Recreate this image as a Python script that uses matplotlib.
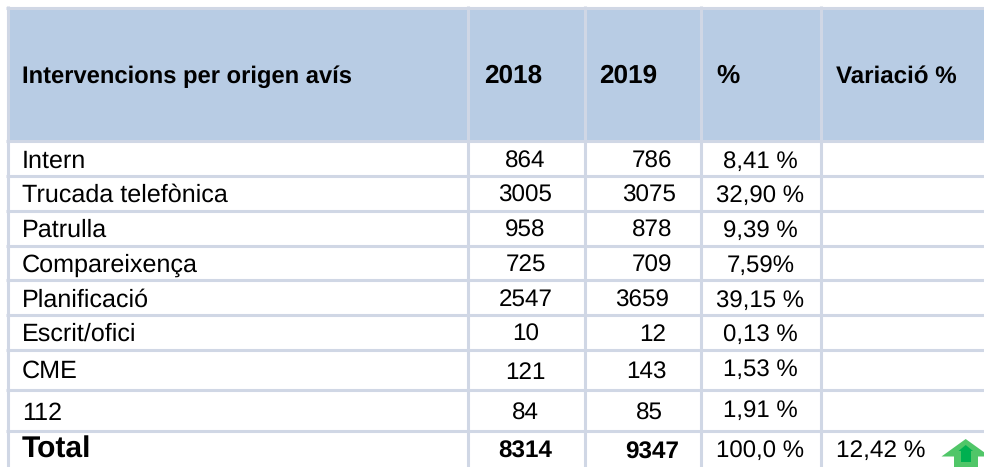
import matplotlib
matplotlib.use('Agg')
import matplotlib.pyplot as plt
from matplotlib.patches import Rectangle, Polygon

plt.rcParams['font.family'] = ['Liberation Sans', 'DejaVu Sans']
plt.rcParams['text.hinting'] = 'no_hinting'

# table content
header = ['Intervencions per origen avís', '2018', '2019', '%', 'Variació %']
origen = ['Intern', 'Trucada telefònica', 'Patrulla', 'Compareixença',
          'Planificació', 'Escrit/ofici', 'CME', '112', 'Total']
any_2018 = ['864', '3005', '958', '725', '2547', '10', '121', '84', '8314']
any_2019 = ['786', '3075', '878', '709', '3659', '12', '143', '85', '9347']
percent = ['8,41 %', '32,90 %', '9,39 %', '7,59%', '39,15 %', '0,13 %',
           '1,53 %', '1,91 %', '100,0 %']
variacio_total = '12,42 %'

# layout in pixels
col_lines = [7.5, 467.5, 584.5, 700.5, 820.5]
row_lines = [7.5, 140.5, 175.5, 210.5, 245.5, 279.5, 314.5, 349.5, 389.5, 430.5]
line_color = '#D0D7E5'
head_color = '#B8CCE4'

base_name = [168, 202, 237, 272, 307, 341, 378, 420, 458]
base_2018 = [168, 202, 237, 272, 307, 341, 379, 420, 458]
base_2019 = [168, 202, 237, 272, 307, 341, 379, 420, 459]
base_pct = [168, 202, 237, 272, 307, 341, 376, 417, 457]
x_2018 = 525.5
x_2019 = [652, 649, 652, 652, 642, 653, 646, 649, 652]
x_pct = 760.5

fig = plt.figure(figsize=(9.84, 4.67), dpi=100)
ax = fig.add_axes([0, 0, 1, 1])
ax.set_xlim(0, 984)
ax.set_ylim(467, 0)
ax.axis('off')

# header background
ax.add_patch(Rectangle((7.5, 7.5), 984 - 7.5, 133, facecolor=head_color, edgecolor='none', zorder=1))

# grid
for x in col_lines:
    ax.plot([x, x], [6, 467], color=line_color, lw=2.2, solid_capstyle='butt', zorder=2)
for y in row_lines:
    ax.plot([6, 984], [y, y], color=line_color, lw=2.2, solid_capstyle='butt', zorder=2)

# header text
txt = '#000000'
ax.text(22, 83, header[0], fontsize=17.1, fontweight='bold', color=txt, va='baseline')
ax.text(484, 83, header[1], fontsize=18.8, fontweight='bold', color=txt, va='baseline')
ax.text(599, 83, header[2], fontsize=18.8, fontweight='bold', color=txt, va='baseline')
ax.text(716, 83, header[3], fontsize=18.8, fontweight='bold', color=txt, va='baseline')
ax.text(836, 83, header[4], fontsize=17.4, fontweight='bold', color=txt, va='baseline')

# rows
for i in range(len(origen)):
    last = i == len(origen) - 1
    ax.text(22, base_name[i], origen[i], fontsize=21.6 if last else 18.1,
            fontweight='bold' if last else 'normal', color=txt, va='baseline')
    ax.text(x_2018, base_2018[i], any_2018[i], fontsize=17.5, ha='center', va='baseline',
            fontweight='bold' if last else 'normal', color=txt)
    ax.text(x_2019[i], base_2019[i], any_2019[i], fontsize=17.5, ha='center', va='baseline',
            fontweight='bold' if last else 'normal', color=txt)
    ax.text(x_pct, base_pct[i], percent[i], fontsize=17.3, ha='center', va='baseline', color=txt)

ax.text(836.5, 457, variacio_total, fontsize=17.6, va='baseline', color=txt)

# green up arrow, runs off the right and bottom edge
ax.add_patch(Polygon([(965.7, 439), (941.5, 456.5), (954, 456.5), (954, 468),
                      (978, 468), (978, 456.5), (990, 456.5)],
                     closed=True, facecolor='#50C668', edgecolor='none', zorder=3))
ax.add_patch(Polygon([(965.7, 445), (958.5, 451), (961, 451), (961, 462),
                      (971, 462), (971, 451), (973, 451)],
                     closed=True, facecolor='#00B050', edgecolor='none', zorder=4))

fig.savefig('out.png', dpi=100)
